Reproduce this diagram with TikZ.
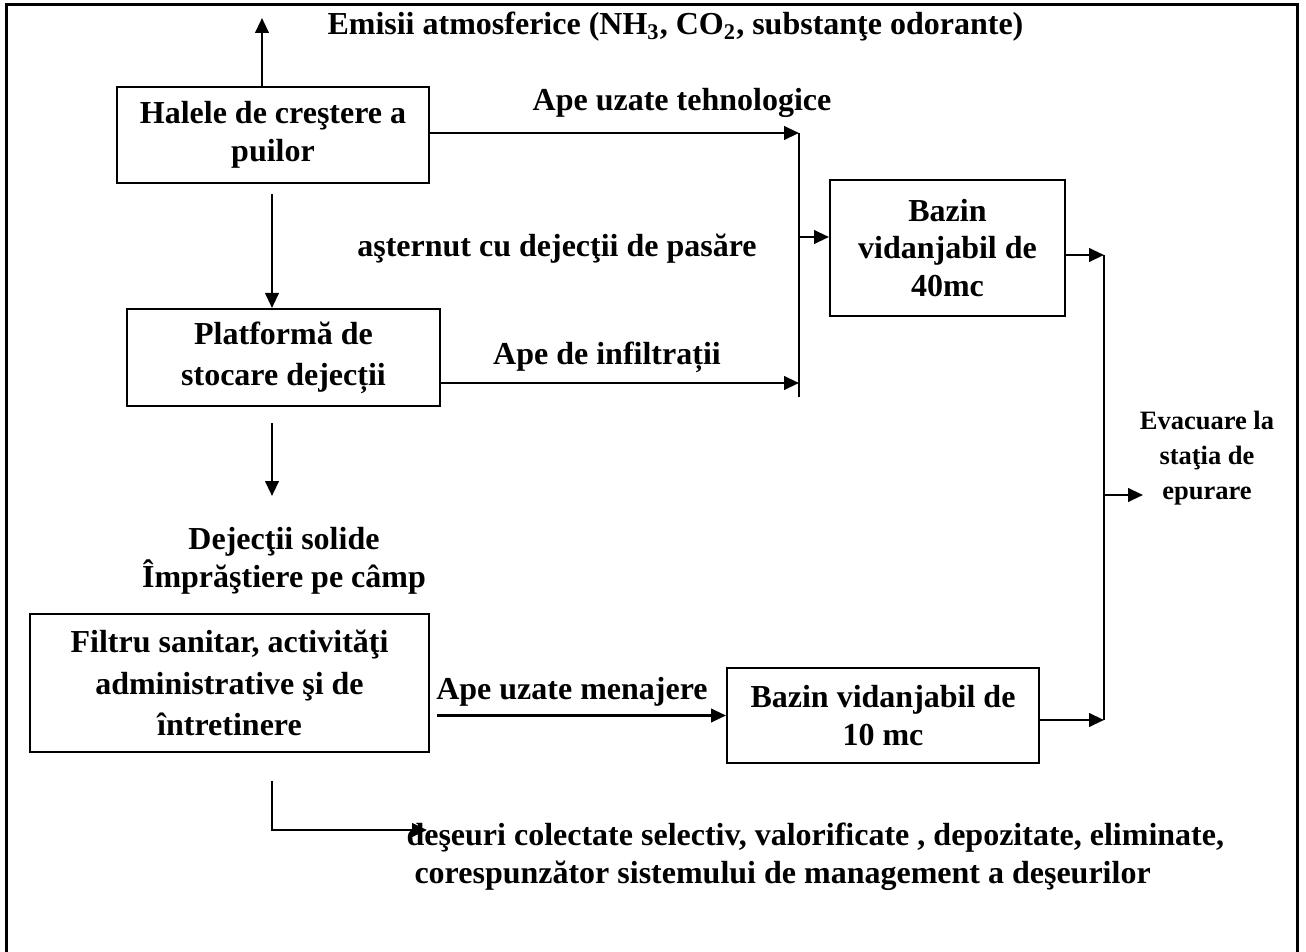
\documentclass[tikz,border=0pt]{standalone}
\usepackage{fontspec}
\setmainfont{Liberation Serif}
\usetikzlibrary{arrows.meta}

\begin{document}
\begin{tikzpicture}[x=0.4pt,y=-0.4pt,
	every node/.style={font=\fontsize{12.8}{15}\selectfont\bfseries, inner sep=0pt},
	box/.style={draw, line width=0.8pt, align=center},
	arr/.style={-{Triangle[length=6pt,width=5.4pt]}, line width=1pt},
	junction/.style={line width=0.8pt}]
	\useasboundingbox (0,0) rectangle (1306,952);
	\draw[line width=1.2pt] (6,952) -- (6,5) -- (1297,5) -- (1297,952);

	\node[box, minimum width=124.8pt, minimum height=38.4pt] (hale) at (273,135) {Halele de creştere a\\puilor};
	\node[box, minimum width=125.2pt, minimum height=38.8pt, font=\fontsize{12.8}{16.5}\selectfont\bfseries] (platforma) at (283.5,357.5) {Platformă de\\stocare dejecții};
	\node[align=center] (solide) at (284,561) {Dejecţii solide\\Împrăştiere pe câmp};
	\node[box, minimum width=159.6pt, minimum height=55.2pt, font=\fontsize{12.8}{16.6}\selectfont\bfseries] (filtru) at (229.5,683) {Filtru sanitar, activităţi\\administrative şi de\\întretinere};
	\node[box, minimum width=94pt, minimum height=54.4pt] (bazin40) at (947.5,248) {Bazin\\vidanjabil de\\40mc};
	\node[box, minimum width=124.8pt, minimum height=38pt] (bazin10) at (883,715.5) {Bazin vidanjabil de\\10 mc};
	\node[align=center, font=\fontsize{10.6}{14}\selectfont\bfseries] (evacuare) at (1207,458) {Evacuare la\\staţia de\\epurare};

	\node[anchor=west] (emisii) at (327,27) {Emisii atmosferice (NH\textsubscript{3}, CO\textsubscript{2}, substanţe odorante)};
	\node (tehno) at (682,103) {Ape uzate tehnologice};
	\node (asternut) at (557,249) {aşternut cu dejecţii de pasăre};
	\node (infiltr) at (607,357) {Ape de infiltrații};
	\node (menaj) at (572,692) {Ape uzate menajere};
	\node[anchor=west, align=left] (deseuri) at (406,857) {deşeuri colectate selectiv, valorificate , depozitate, eliminate,\\\ corespunzător sistemului de management a deşeurilor};

	\coordinate (sus) at (262,18);
	\coordinate (j1a) at (799,133);
	\coordinate (j1m) at (799,237);
	\coordinate (j1b) at (799,383);
	\coordinate (j1c) at (799,397);
	\coordinate (j2a) at (1104,255);
	\coordinate (j2m) at (1104,495);
	\coordinate (j2b) at (1104,720);
	\coordinate (epur) at (1143,495);
	\coordinate (d0) at (272,194);
	\coordinate (jos1) at (272,423);
	\coordinate (jos2) at (272,496);
	\coordinate (m0) at (437,715.5);
	\coordinate (w1) at (272,781);
	\coordinate (w2) at (272,830);
	\coordinate (w3) at (427,830);

	\draw[arr] (sus |- hale.north) -- (sus);
	\draw[arr] (hale.east |- j1a) -- (j1a);
	\draw[junction] (j1a) -- (j1c);
	\draw[arr] (j1m) -- (bazin40.west |- j1m);
	\draw[arr] (d0) -- (platforma.north -| d0);
	\draw[arr] (platforma.east |- j1b) -- (j1b);
	\draw[arr] (jos1) -- (jos2);
	\draw[arr] (m0) -- (bazin10.west);
	\draw[arr] (bazin40.east |- j2a) -- (j2a);
	\draw[junction] (j2a) -- (j2b);
	\draw[arr] (bazin10.east |- j2b) -- (j2b);
	\draw[arr] (j2m) -- (epur);
	\draw[arr] (w1) -- (w2) -- (w3);
\end{tikzpicture}
\end{document}
